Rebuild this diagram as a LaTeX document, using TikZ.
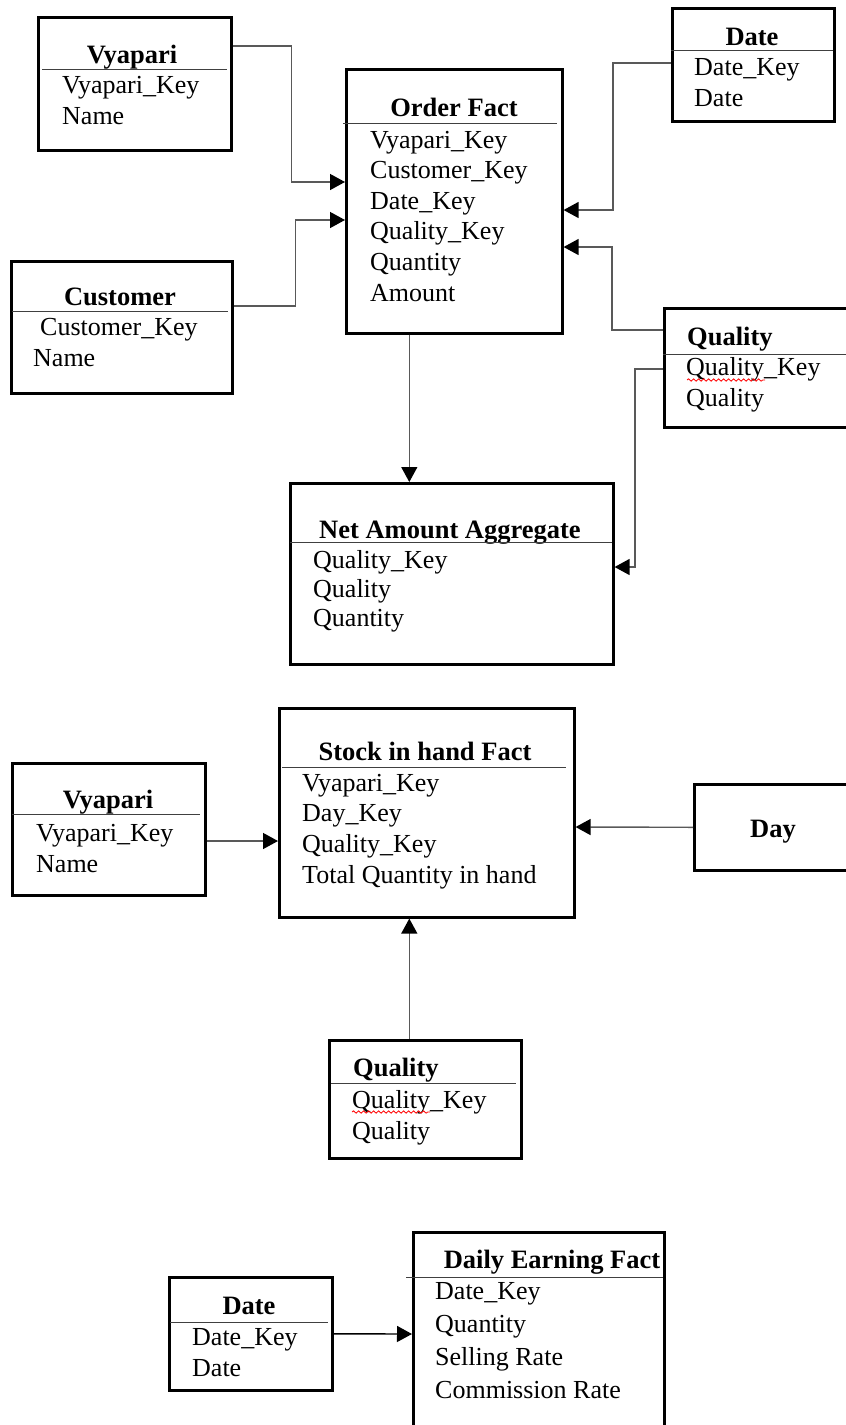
\documentclass[tikz,border=0pt]{standalone}
\usepackage{fontspec}
\setmainfont{Liberation Serif}
\usetikzlibrary{arrows.meta, decorations.pathmorphing}

\begin{document}
\begin{tikzpicture}[x=1pt, y=-1pt,
  tbl/.style={draw, line width=2.6pt, rectangle, anchor=north west, inner sep=0pt},
  ttl/.style={font=\fontsize{26.5}{30.6}\selectfont\bfseries, anchor=base, inner sep=0pt},
  rows/.style={font=\fontsize{26}{30.6}\selectfont, align=left, anchor=base west, inner sep=0pt},
  hline/.style={line width=1pt, black!75},
  link/.style={line width=1.4pt, black!65, -{Triangle[length=15pt, width=16pt, color=black]}},
  typo/.style={red, line width=0.8pt, decorate, decoration={snake, amplitude=1.2pt, segment length=5pt}}]
\useasboundingbox (0,0) rectangle (846,1425);
\clip (0,0) rectangle (846,1425);

% Order fact and its dimensions (rows are placed by the baseline of their last line)
\node[tbl, minimum width=193pt, minimum height=133pt] (vyapA) at (37,16) {};
\node[ttl] (vyapAt) at (132,63) {Vyapari};
\draw[hline] (42,69) -- (227,69);
\node[rows] (vyapAr) at (62,124) {Vyapari\_Key\\Name};

\node[tbl, minimum width=221pt, minimum height=132pt] (cust) at (10,260) {};
\node[ttl] (custt) at (120,305) {Customer};
\draw[hline] (12,311) -- (228,311);
\node[rows] (custr) at (33,366) {\hspace{7pt}Customer\_Key\\Name};

\node[tbl, minimum width=216pt, minimum height=264pt] (order) at (345,68) {};
\node[ttl] (ordert) at (454,116) {Order Fact};
\draw[hline] (343,123) -- (557,123);
\node[rows] (orderr) at (370,301) {Vyapari\_Key\\Customer\_Key\\Date\_Key\\Quality\_Key\\Quantity\\Amount};

\node[tbl, minimum width=162pt, minimum height=113pt] (dateA) at (671,7) {};
\node[ttl] (dateAt) at (752,45) {Date};
\draw[hline] (671,50) -- (833,50);
\node[rows] (dateAr) at (694,106) {Date\_Key\\Date};

\node[tbl, minimum width=200pt, minimum height=119pt] (qualA) at (663,307) {};
\node[ttl, anchor=base west] (qualAt) at (687,345) {Quality};
\draw[hline] (663,354) -- (846,354);
\node[rows] (qualAr) at (686,406) {Quality\_Key\\Quality};
\draw[typo] (687,380) -- (765,380);

\node[tbl, minimum width=323pt, minimum height=181pt] (net) at (289,482) {};
\node[ttl] (nett) at (450,538) {Net Amount Aggregate};
\draw[hline] (290,542) -- (612,542);
\node[rows, font=\fontsize{26}{29}\selectfont] (netr) at (313,626) {Quality\_Key\\Quality\\Quantity};

\draw[link] ([yshift=-30pt]vyapA.north east) -- ++(59,0) |- ([yshift=-114pt]order.north west);
\draw[link] ([yshift=-46pt]cust.north east) -- ++(62,0) |- ([yshift=-152pt]order.north west);
\draw[link] ([yshift=-56pt]dateA.north west) -- ++(-58,0) |- ([yshift=-142pt]order.north east);
\draw[link] ([yshift=-23pt]qualA.north west) -- ++(-51,0) |- ([yshift=-179pt]order.north east);
\draw[link] ([yshift=-62pt]qualA.north west) -- ++(-28,0) |- ([yshift=-85pt]net.north east);
\draw[link] ([xshift=-45pt]order.south) -- ([xshift=-42.5pt]net.north);

% Stock in hand fact
\node[tbl, minimum width=295pt, minimum height=209pt] (stock) at (278,707) {};
\node[ttl] (stockt) at (425,760) {Stock in hand Fact};
\draw[hline] (282,767) -- (566,767);
\node[rows] (stockr) at (302,883) {Vyapari\_Key\\Day\_Key\\Quality\_Key\\Total Quantity in hand};

\node[tbl, minimum width=193pt, minimum height=132pt] (vyapB) at (11,762) {};
\node[ttl] (vyapBt) at (108,808) {Vyapari};
\draw[hline] (12,814) -- (200,814);
\node[rows] (vyapBr) at (36,872) {Vyapari\_Key\\Name};

\node[tbl, minimum width=170pt, minimum height=86pt] (day) at (693,783) {};
\node[ttl] (dayt) at (773,837) {Day};

\node[tbl, minimum width=192pt, minimum height=118pt] (qualB) at (328,1039) {};
\node[ttl, anchor=base west] (qualBt) at (353,1076) {Quality};
\draw[hline] (331,1083) -- (516,1083);
\node[rows] (qualBr) at (352,1139) {Quality\_Key\\Quality};
\draw[typo] (352,1112) -- (430,1112);

\draw[link] ([yshift=-79pt]vyapB.north east) -- ([yshift=-134pt]stock.north west);
\draw[link] (day.west) -- ([yshift=-120pt]stock.north east);
\draw[link] ([xshift=-16pt]qualB.north) -- ([xshift=-17.5pt]stock.south);

% Daily earning fact
\node[tbl, minimum width=163pt, minimum height=113pt] (dateB) at (168,1276) {};
\node[ttl] (dateBt) at (249,1314) {Date};
\draw[hline] (170,1322) -- (328,1322);
\node[rows] (dateBr) at (192,1376) {Date\_Key\\Date};

\node[tbl, minimum width=251pt, minimum height=220pt] (daily) at (412,1231) {};
\node[ttl] (dailyt) at (552,1268) {Daily Earning Fact};
\draw[hline] (406,1277) -- (663,1277);
\node[rows, font=\fontsize{26}{32.7}\selectfont] (dailyr) at (435,1398) {Date\_Key\\Quantity\\Selling Rate\\Commission Rate};

\draw[link, black] (dateB.east) -- ([yshift=-103pt]daily.north west);
\end{tikzpicture}
\end{document}
